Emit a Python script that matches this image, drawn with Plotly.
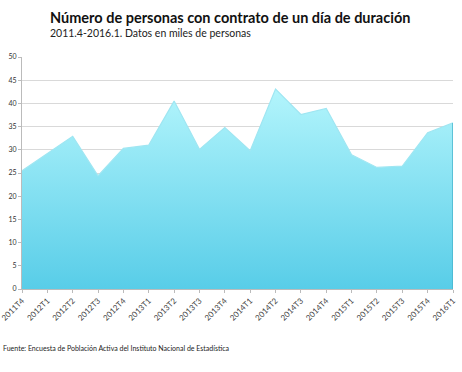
import plotly.graph_objects as go

categories = ["2011T4", "2012T1", "2012T2", "2012T3", "2012T4", "2013T1", "2013T2", "2013T3",
              "2013T4", "2014T1", "2014T2", "2014T3", "2014T4", "2015T1", "2015T2", "2015T3",
              "2015T4", "2016T1"]
values = [25.5, 29.2, 32.9, 24.4, 30.3, 31.0, 40.5, 30.1, 34.8, 29.8, 43.1, 37.6, 38.9,
          28.9, 26.2, 26.5, 33.7, 35.8]
y_ticks = [0, 5, 10, 15, 20, 25, 30, 35, 40, 45, 50]

title_text = "Número de personas con contrato de un día de duración"
subtitle_text = "2011.4-2016.1. Datos en miles de personas"
source_text = "Fuente: Encuesta de Población Activa del Instituto Nacional de Estadística"

fig = go.Figure()
fig.add_trace(go.Scatter(
    x=categories, y=values, mode="lines",
    line=dict(color="#9fe6f2", width=1.2),
    fill="tozeroy",
    fillgradient=dict(type="vertical",
                      colorscale=[[0, "#58cde8"], [1, "#b3f5fc"]]),
    hoverinfo="skip", showlegend=False,
))
fig.add_trace(go.Scatter(
    x=[categories[-1], categories[-1]], y=[0, values[-1]], mode="lines",
    line=dict(color="#48b4cc", width=1.5), hoverinfo="skip", showlegend=False,
))

font_family = "Lato, 'Open Sans', sans-serif"
fig.update_layout(
    width=462, height=372,
    margin=dict(l=22, r=9, t=57, b=83, autoexpand=False),
    paper_bgcolor="white", plot_bgcolor="white",
    font=dict(family=font_family, color="#333"),
    xaxis=dict(
        type="category", range=[0, len(categories) - 1], automargin=False,
        showgrid=False, showline=True, linecolor="#bbbbbb", linewidth=1,
        ticks="outside", ticklen=3, tickcolor="#bbbbbb",
        tickangle=-45, tickfont=dict(size=8, color="#444"),
        zeroline=False,
    ),
    yaxis=dict(
        range=[0, 50], tickvals=y_ticks, automargin=False,
        showgrid=True, gridcolor="#d9d9d9", gridwidth=1,
        showline=True, linecolor="#bbbbbb", linewidth=1,
        ticks="outside", ticklen=3, tickcolor="#bbbbbb",
        tickfont=dict(size=7, color="#333"), zeroline=False,
    ),
    annotations=[
        dict(text="<b>" + title_text + "</b>", xref="paper", yref="paper",
             x=0.06, y=1, yshift=40, xanchor="left", yanchor="middle",
             showarrow=False, font=dict(size=14.5, color="#111", family=font_family)),
        dict(text=subtitle_text, xref="paper", yref="paper",
             x=0.06, y=1, yshift=24, xanchor="left", yanchor="middle",
             showarrow=False, font=dict(size=10.5, color="#222", family=font_family)),
        dict(text=source_text, xref="paper", yref="paper",
             x=-0.049, y=0, yshift=-59, xanchor="left", yanchor="middle",
             showarrow=False, font=dict(size=7, color="#222", family=font_family)),
    ],
)

fig.write_html("out.html", config={"displayModeBar": False},
               post_script="document.body.style.margin='0';")
